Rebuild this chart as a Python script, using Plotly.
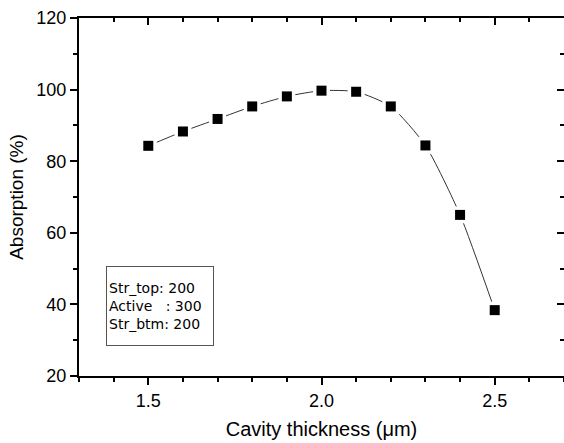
import plotly.graph_objects as go

thickness = [1.5, 1.6, 1.7, 1.8, 1.9, 2.0, 2.1, 2.2, 2.3, 2.4, 2.5]
absorption = [84.3, 88.3, 91.8, 95.3, 98.1, 99.7, 99.4, 95.3, 84.4, 65.0, 38.4]

x_ticks = [1.5, 2.0, 2.5]
x_tick_labels = ["1.5", "2.0", "2.5"]
y_ticks = [20, 40, 60, 80, 100, 120]
y_tick_labels = ["20", "40", "60", "80", "100", "120"]

box_lines = ["Str_top: 200", "Active\u00a0\u00a0\u00a0: 300", "Str_btm: 200"]

XR = [1.3, 2.7]
YR = [20, 120]
FONT = "Liberation Sans, Arial, sans-serif"

fig = go.Figure()
fig.add_trace(go.Scatter(x=thickness, y=absorption, mode="lines",
                         line=dict(color="#333333", width=1, shape="spline", smoothing=0.6),
                         hoverinfo="skip", showlegend=False))
fig.add_trace(go.Scatter(x=thickness, y=absorption, mode="markers",
                         marker=dict(symbol="square", size=17, color="white", line=dict(width=0)),
                         hoverinfo="skip", showlegend=False))
fig.add_trace(go.Scatter(x=thickness, y=absorption, mode="markers",
                         marker=dict(symbol="square", size=10, color="black", line=dict(width=0)),
                         showlegend=False))
# invisible trace to activate mirror axes
fig.add_trace(go.Scatter(x=[thickness[0]], y=[absorption[0]], xaxis="x2", yaxis="y2",
                         mode="markers", marker=dict(opacity=0), hoverinfo="skip", showlegend=False))

axis_common = dict(showgrid=False, zeroline=False, linecolor="black", linewidth=2,
                   tickcolor="black", tickwidth=1.5, automargin=False)

fig.update_layout(
    width=564, height=443,
    margin=dict(l=79, r=0, t=18, b=67),
    paper_bgcolor="white", plot_bgcolor="white",
    font=dict(family=FONT, color="black"),
    xaxis=dict(range=XR, tickvals=x_ticks, ticktext=x_tick_labels, ticks="outside", ticklen=7,
               showline=True, tickfont=dict(size=18),
               minor=dict(dtick=0.1, tick0=1.3, ticks="outside", ticklen=4, tickcolor="black", tickwidth=1.5),
               title=dict(text="Cavity thickness (\u03bcm)", font=dict(size=20), standoff=12),
               **axis_common),
    yaxis=dict(range=YR, tickvals=y_ticks, ticktext=y_tick_labels, ticks="outside", ticklen=7,
               showline=True, tickfont=dict(size=18),
               minor=dict(dtick=10, tick0=20, ticks="outside", ticklen=4, tickcolor="black", tickwidth=1.5),
               title=dict(text="Absorption (%)", font=dict(size=19), standoff=8),
               **axis_common),
    xaxis2=dict(range=XR, overlaying="x", side="top", anchor="y", tickvals=x_ticks, ticks="inside",
                ticklen=7, showticklabels=False, showline=True,
                minor=dict(dtick=0.1, tick0=1.3, ticks="inside", ticklen=4, tickcolor="black", tickwidth=1.5),
                **axis_common),
    yaxis2=dict(range=YR, overlaying="y", side="right", anchor="x", tickvals=y_ticks, ticks="inside",
                ticklen=7, showticklabels=False, showline=False,
                minor=dict(dtick=10, tick0=20, ticks="inside", ticklen=4, tickcolor="black", tickwidth=1.5),
                **axis_common),
)

fig.add_annotation(
    x=1.378, y=50.6, xref="x", yref="y", xanchor="left", yanchor="top",
    text="<br>".join(box_lines), showarrow=False, align="left", valign="middle",
    font=dict(size=14, family="DejaVu Sans, sans-serif", color="black"),
    bordercolor="#555555", borderwidth=1, borderpad=2, bgcolor="white",
    width=102, height=74,
)

fig.write_html("out.html", config={"displayModeBar": False},
               post_script="document.body.style.margin='0';document.body.style.overflow='hidden';")
